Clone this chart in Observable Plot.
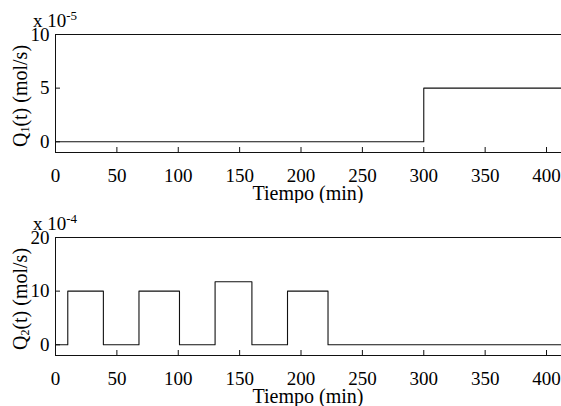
<!DOCTYPE html>
<html>
<head>
<meta charset="utf-8">
<script src="https://cdn.jsdelivr.net/npm/d3@7"></script>
<script src="https://cdn.jsdelivr.net/npm/@observablehq/plot@0.6"></script>
<style>
  html, body { margin: 0; padding: 0; background: white; }
  svg { display: block; }
  svg, svg text { font-family: "Liberation Serif", "Times New Roman", serif !important; }
</style>
</head>
<body>
<div id="chart"></div>
<script>
// Data
const xTicks = [0, 50, 100, 150, 200, 250, 300, 350, 400];
const xDomain = [0, 412.2];

const q1Time  = [0, 300, 420];
const q1Value = [0, 5, 5];          // x 10^-5 mol/s
const q1Ticks = [0, 5, 10];
const q1Domain = [-1, 10];

const q2Time  = [0, 10, 39, 68, 101, 130, 160, 189, 222, 420];
const q2Value = [0, 10, 0, 10, 0, 11.75, 0, 10, 0, 0];   // x 10^-4 mol/s
const q2Ticks = [0, 10, 20];
const q2Domain = [-2, 20];

const xLabel = "Tiempo (min)";
const font = "'Liberation Serif', 'Times New Roman', serif";

function panel(time, value, yDomain, yTicks, sub, exp) {
  const W = 561, H = 203, mt = 34, mb = 51, ml = 55, mr = 0;
  const data = time.map((t, i) => ({t, v: value[i]}));
  const p = Plot.plot({
    width: W, height: H,
    marginTop: mt, marginBottom: mb, marginLeft: ml, marginRight: mr,
    x: {domain: xDomain},
    y: {domain: yDomain},
    style: {fontFamily: font, fontSize: "19px", background: "white", color: "black"},
    marks: [
      Plot.ruleY([yDomain[1]], {stroke: "#111", strokeWidth: 1}),
      Plot.ruleY([yDomain[0]], {stroke: "#111", strokeWidth: 1}),
      Plot.ruleX([0], {stroke: "#111", strokeWidth: 1}),
      Plot.tickX(xTicks, {x: d => d, insetTop: H - mt - mb - 5, stroke: "#111"}),
      Plot.tickY(yTicks, {y: d => d, insetRight: W - ml - mr - 5, stroke: "#111"}),
      Plot.line(data, {x: "t", y: "v", curve: "step-after", stroke: "#111", strokeWidth: 1.1, clip: true}),
      Plot.axisX({ticks: xTicks, tickSize: 0, tickPadding: 16, label: null}),
      Plot.axisY({ticks: yTicks, tickSize: 0, tickPadding: 6, label: null})
    ]
  });
  const svg = d3.select(p);
  // y label
  const yl = svg.append("text")
    .attr("transform", `translate(27,${(mt + H - mb) / 2 + 3}) rotate(-90)`)
    .attr("text-anchor", "middle")
    .attr("font-size", 20).attr("fill", "black");
  yl.append("tspan").text("Q");
  yl.append("tspan").attr("font-size", 12).attr("dy", 2).text(sub);
  yl.append("tspan").attr("dy", -2).text("(t) (mol/s)");
  // exponent label
  const ex = svg.append("text")
    .attr("x", 55).attr("y", 27)
    .attr("font-size", 19).attr("fill", "black");
  ex.append("tspan").text("x 10");
  ex.append("tspan").attr("font-size", 13).attr("dy", -7).text(exp);
  // x label
  svg.append("text")
    .attr("x", (ml + W - mr) / 2).attr("y", 200)
    .attr("text-anchor", "middle")
    .attr("font-size", 20).attr("fill", "black")
    .text(xLabel);
  return p;
}

const chart = document.getElementById("chart");
chart.appendChild(panel(q1Time, q1Value, q1Domain, q1Ticks, "1", "-5"));
chart.appendChild(panel(q2Time, q2Value, q2Domain, q2Ticks, "2", "-4"));
</script>
</body>
</html>
